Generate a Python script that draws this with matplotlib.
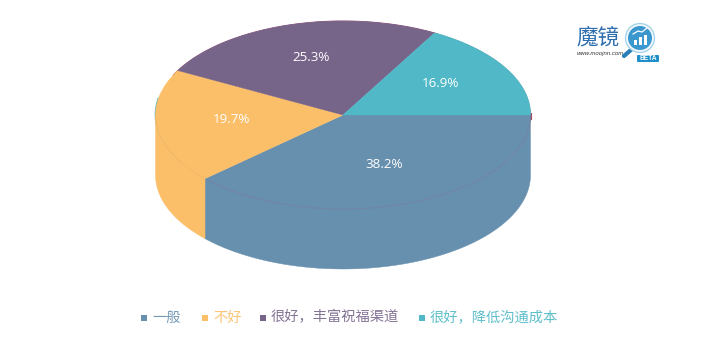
import numpy as np
import matplotlib
matplotlib.use("Agg")
import matplotlib.pyplot as plt
from matplotlib.patches import Wedge, Polygon, Circle, FancyBboxPatch, Rectangle
from matplotlib.transforms import Affine2D

plt.rcParams['font.family'] = ['Noto Sans CJK SC', 'DejaVu Sans']

categories = ['一般', '不好', '很好，丰富祝福渠道', '很好，降低沟通成本']
values = [38.2, 19.7, 25.3, 16.9]
colors = ['#678FAE', '#FBBF6A', '#766489', '#50B8C6']
legend_marker_x = [144, 205, 263, 422]

W, H = 704, 363
CX, CY, RX, RY, DEPTH = 343, 115, 187.5, 94, 60

fig = plt.figure(figsize=(W / 100, H / 100), dpi=100)
ax = fig.add_axes([0, 0, 1, 1])
ax.set_xlim(0, W)
ax.set_ylim(H, 0)
ax.axis('off')

ell = Affine2D().scale(RX, RY).translate(CX, CY) + ax.transData
frac = np.array(values) / sum(values)
edges = np.concatenate([[0], np.cumsum(frac) * 360])

# thin rim behind everything
th = np.radians(np.linspace(150, 190, 40))
ax.plot(CX + RX * np.cos(th), CY + RY * np.sin(th), color='#50B8C6', lw=1.2, zorder=1)
th = np.radians(np.linspace(205, 300, 120))
ax.plot(CX + RX * np.cos(th), CY + RY * np.sin(th), color='#A0527E', lw=0.7, zorder=1)
th = np.radians(np.linspace(300, 360, 60))
ax.plot(CX + RX * np.cos(th), CY + RY * np.sin(th), color='#5AA7B5', lw=0.7, zorder=1)

# side walls of the slices on the near half
for i, c in enumerate(colors):
    a0, a1 = edges[i], min(edges[i + 1], 180)
    if a0 >= 180:
        continue
    t = np.radians(np.linspace(a0, a1, 120))
    x = CX + RX * np.cos(t)
    y = CY + RY * np.sin(t)
    pts = np.vstack([np.c_[x, y], np.c_[x[::-1], y[::-1] + DEPTH]])
    ax.add_patch(Polygon(pts, closed=True, fc=c, ec=c, lw=0.3, zorder=2))

# top faces
for i, c in enumerate(colors):
    ax.add_patch(Wedge((0, 0), 1, edges[i], edges[i + 1], fc=c, ec=c, lw=0.3,
                       transform=ell, zorder=3))

# faint front edge of the top face
t = np.radians(np.linspace(0, 180, 200))
xe, ye = CX + RX * np.cos(t), CY + RY * np.sin(t)
m = np.degrees(t) <= edges[1]
ax.plot(xe[m], ye[m], color='#76789A', lw=0.5, alpha=0.8, zorder=4)
ax.plot(xe[~m], ye[~m], color='#EDB565', lw=0.5, alpha=0.8, zorder=4)
ax.plot([CX + RX, CX + RX], [CY - 2, CY + 4], color='#A8485F', lw=0.8, zorder=4)

# percentage labels
for i in range(len(values)):
    mid = np.radians((edges[i] + edges[i + 1]) / 2)
    ax.text(CX + 0.6 * RX * np.cos(mid), CY - 4 + 0.6 * RY * np.sin(mid) + 1,
            f'{values[i]:.1f}%', color='white', fontsize=9.6, ha='center', va='center',
            family=['Open Sans', 'DejaVu Sans'], zorder=5)

# legend
for name, c, mx in zip(categories, colors, legend_marker_x):
    ax.add_patch(Rectangle((mx - 3, 315), 6, 6, fc=c, ec='none', zorder=5))
    ax.text(mx + 8, 317.5, name, color=c, fontsize=10.25, ha='left', va='center', alpha=0.9, zorder=5)

# logo
LOGO = '#2F6FB0'
ax.text(576, 38, '魔镜', color=LOGO, fontsize=15.5, ha='left', va='center')
ax.text(577, 54, 'www.moojnn.com', color='#333333', fontsize=4.3, ha='left', va='center',
        family=['Liberation Sans'], style='italic')
ax.plot([632, 624], [49, 56], color='#2A7FB8', lw=3, solid_capstyle='round', zorder=5)
ax.add_patch(Circle((640, 38), 14.5, fc='#F2F8FC', ec='#A9D3E8', lw=1, zorder=5))
ax.add_patch(Circle((640, 38), 12, fc='#3A98CF', ec='none', zorder=6))
for bx, bh in zip([633.5, 638.5, 643.5], [5, 8, 10]):
    ax.add_patch(Rectangle((bx, 45 - bh), 3.5, bh, fc='white', ec='none', zorder=7))
ax.plot([633, 638, 642, 647], [34, 31, 32, 28], color='white', lw=0.9, zorder=7)
ax.add_patch(FancyBboxPatch((637, 55), 22, 7, boxstyle='round,pad=0,rounding_size=1',
                            fc='#1F8FCB', ec='none', zorder=6))
ax.text(648, 58.6, 'BETA', color='white', fontsize=4.8, ha='center', va='center',
        family=['Liberation Sans'], weight='bold', zorder=7)

fig.savefig('out.png', dpi=100, facecolor='white')
